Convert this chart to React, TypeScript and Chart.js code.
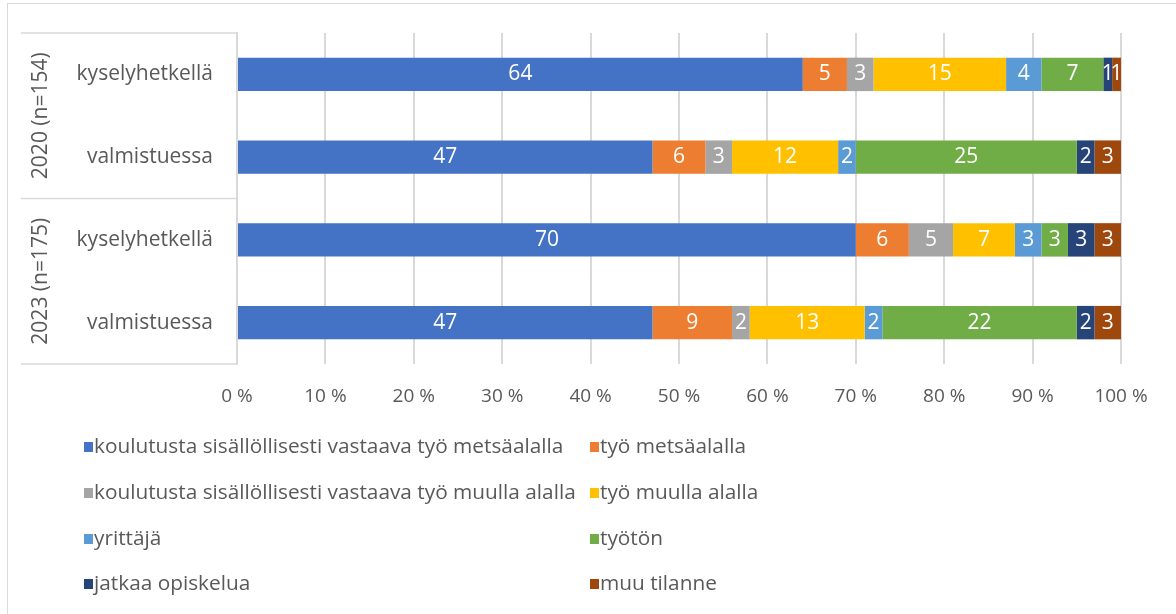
import React, { useEffect, useRef } from "react";
import { Chart, registerables } from "chart.js";

Chart.register(...registerables);

const categories = ["kyselyhetkellä", "valmistuessa", "kyselyhetkellä", "valmistuessa"];
const groups = ["2020 (n=154)", "2023 (n=175)"];
const seriesNames = [
  "koulutusta sisällöllisesti vastaava työ metsäalalla",
  "työ metsäalalla",
  "koulutusta sisällöllisesti vastaava työ muulla alalla",
  "työ muulla alalla",
  "yrittäjä",
  "työtön",
  "jatkaa opiskelua",
  "muu tilanne",
];
const colors = ["#4472C4", "#ED7D31", "#A5A5A5", "#FFC000", "#5B9BD5", "#70AD47", "#264478", "#9E480E"];
const kvMetsa = [64, 47, 70, 47];
const tyoMetsa = [5, 6, 6, 9];
const kvMuu = [3, 3, 5, 2];
const tyoMuu = [15, 12, 7, 13];
const yrittaja = [4, 2, 3, 2];
const tyoton = [7, 25, 3, 22];
const jatkaa = [1, 2, 3, 2];
const muuTilanne = [1, 3, 3, 3];
const seriesValues = [kvMetsa, tyoMetsa, kvMuu, tyoMuu, yrittaja, tyoton, jatkaa, muuTilanne];
const xTicks = [0, 10, 20, 30, 40, 50, 60, 70, 80, 90, 100];

const FONT = "'Open Sans', 'Noto Sans', sans-serif";
const TEXT = "#595959";
const LINE = "#d9d9d9";

const groupPlugin = {
  id: "groupPlugin",
  afterDraw(chart: any) {
    const ctx = chart.ctx;
    const y = chart.scales.y;
    const left = chart.chartArea.left;
    const band = (y.bottom - y.top) / categories.length;
    ctx.save();
    ctx.strokeStyle = LINE;
    ctx.lineWidth = 1.5;
    const lines = [y.top, y.top + band * 2, y.bottom];
    ctx.beginPath();
    lines.forEach((ly) => {
      ctx.moveTo(21, ly);
      ctx.lineTo(left, ly);
    });
    ctx.stroke();
    ctx.fillStyle = TEXT;
    ctx.font = `21px ${FONT}`;
    ctx.textAlign = "center";
    ctx.textBaseline = "middle";
    groups.forEach((g, i) => {
      const cy = y.top + band * (2 * i + 1);
      ctx.save();
      ctx.translate(41, cy);
      ctx.rotate(-Math.PI / 2);
      ctx.fillText(g, 0, 0);
      ctx.restore();
    });
    ctx.restore();
  },
};

const labelPlugin = {
  id: "labelPlugin",
  afterDatasetsDraw(chart: any) {
    const ctx = chart.ctx;
    ctx.save();
    ctx.fillStyle = "#ffffff";
    ctx.font = `21px ${FONT}`;
    ctx.textAlign = "center";
    ctx.textBaseline = "middle";
    chart.data.datasets.forEach((ds: any, di: number) => {
      const meta = chart.getDatasetMeta(di);
      meta.data.forEach((el: any, i: number) => {
        const v = ds.data[i];
        const cx = (el.x + el.base) / 2;
        ctx.fillText(String(v), cx, el.y);
      });
    });
    ctx.restore();
  },
};

const legendPlugin = {
  id: "legendPlugin",
  afterDraw(chart: any) {
    const ctx = chart.ctx;
    ctx.save();
    ctx.font = `20.8px ${FONT}`;
    ctx.textBaseline = "middle";
    ctx.textAlign = "left";
    const colX = [84, 590];
    const rowY = [447, 493, 539, 584];
    chart.data.datasets.forEach((ds: any, i: number) => {
      const cx = colX[i % 2];
      const cy = rowY[Math.floor(i / 2)];
      ctx.fillStyle = ds.backgroundColor;
      ctx.fillRect(cx, cy - 5, 9, 10);
      ctx.fillStyle = TEXT;
      ctx.fillText(ds.label, cx + 10, cy);
    });
    ctx.restore();
  },
};

export default function App() {
  const ref = useRef<HTMLCanvasElement>(null);
  useEffect(() => {
    if (!ref.current) return;
    const chart = new Chart(ref.current, {
      type: "bar",
      data: {
        labels: categories,
        datasets: seriesNames.map((name, i) => ({
          label: name,
          data: seriesValues[i],
          backgroundColor: colors[i],
          borderWidth: 0,
          barPercentage: 0.404,
          categoryPercentage: 1,
        })),
      },
      options: {
        indexAxis: "y",
        animation: false,
        responsive: false,
        maintainAspectRatio: false,
        layout: { padding: { top: 33, right: 55, left: 0, bottom: 0 } },
        plugins: { legend: { display: false }, tooltip: { enabled: false } },
        scales: {
          x: {
            stacked: true,
            min: 0,
            max: 100,
            afterBuildTicks: (scale: any) => {
              scale.ticks = xTicks.map((v) => ({ value: v }));
            },
            afterFit: (scale: any) => {
              scale.height = 250;
            },
            grid: { color: LINE, lineWidth: 2, drawTicks: false },
            border: { display: false },
            ticks: {
              color: TEXT,
              font: { family: FONT, size: 19 },
              padding: 21,
              callback: (v: any) => `${v} %`,
            },
          },
          y: {
            stacked: true,
            afterFit: (scale: any) => {
              scale.width = 237;
              scale.paddingTop = 0;
              scale.paddingBottom = 0;
            },
            grid: { display: false, drawTicks: false },
            border: { display: true, color: LINE, width: 2 },
            ticks: {
              color: TEXT,
              font: { family: FONT, size: 21 },
              padding: 24,
            },
          },
        },
      },
      plugins: [groupPlugin, labelPlugin, legendPlugin],
    });
    return () => chart.destroy();
  }, []);
  return (
    <div style={{ position: "fixed", left: 0, top: 0, width: 1176, height: 614, background: "#fff" }}>
      <div
        style={{
          position: "absolute",
          left: 7,
          top: 3,
          width: 1200,
          height: 700,
          borderLeft: `1.5px solid ${LINE}`,
          borderTop: `1.5px solid ${LINE}`,
        }}
      />
      <canvas ref={ref} width={1176} height={614} style={{ position: "absolute", left: 0, top: 0 }} />
    </div>
  );
}
